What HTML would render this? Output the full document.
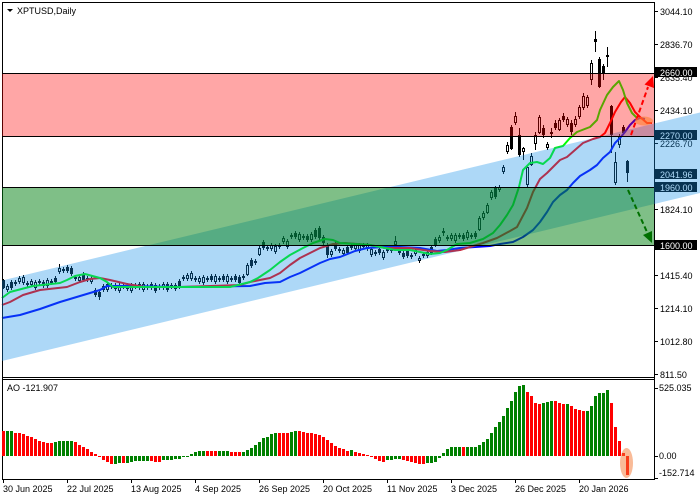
<!DOCTYPE html>
<html><head><meta charset="utf-8"><title>XPTUSD,Daily</title>
<style>
html,body{margin:0;padding:0;background:#fff;width:700px;height:500px;overflow:hidden}
#w{width:700px;height:500px}
svg text{font-family:"Liberation Sans",Arial,sans-serif;font-size:9px;fill:#000}
</style></head><body><div id="w"></div>
<script>
(function(){
var s='<svg xmlns="http://www.w3.org/2000/svg" width="700" height="500" viewBox="0 0 700 500">';
function R(x,y,w,h,f){return '<rect x="'+x+'" y="'+y+'" width="'+w+'" height="'+h+'" fill="'+f+'" shape-rendering="crispEdges"/>';}
function T(x,y,t,f){return '<text x="'+x+'" y="'+y+'"'+(f?' style="fill:'+f+'"':'')+'>'+t+'</text>';}
s+=R(0,0,700,500,'#fff');

/* ---------- candles ---------- */
var m=[284,288,285,283,280,280,284,283,285,282,
284,283,282,280,270,270,269,271,278,279,
277,279,280,292,294,288,287,286,287,288,
286,287,288,286,286,287,287,286,288,287,
286,287,286,287,284,278,277,276,279,280,
280,279,278,279,279,278,279,279,278,280,
277,270,263,262,251,245,248,247,249,246,
240,244,236,235,237,237,238,237,234,233,
240,250,253,246,250,252,250,247,247,248,
246,247,252,253,251,255,250,249,243,252,
255,253,256,252,259,255,254,250,242,239,
232,238,237,238,236,237,235,236,235];
var C=[],i;
for(i=0;i<m.length;i++){var h=1+(i*7%3);var bull=((i*5+3)%7)<4;C.push([m[i]-h,m[i]+h,m[i]-h-2,m[i]+h+2,bull?1:0]);}
var ov={0:[280,288,279,289,0],14:[268,272,264,274,1],23:[290,295,288,297,0],24:[292,297,291,300,0],
61:[265,275,263,276,1],64:[248,255,246,256,1],78:[230,237,228,239,0],79:[228,238,226,240,0],
81:[245,255,243,258,0],98:[241,245,236,247,1],104:[258,261,256,263,1],108:[239,245,237,247,0],110:[231,233,228,236,1]};
for(var k in ov)C[k]=ov[k];
var D=[[218,230,216,231,1],[213,218,211,220,1],[205,213,203,214,1],[192,198,190,200,1],[187,197,186,199,0],
[187,190,185,192,1],[167,172,165,174,1],[145,152,142,154,1],[127,149,125,150,0],[116,123,112,125,1],
[135,155,128,157,0],[148,152,147,160,1],[167,185,165,187,1],[156,165,153,166,1],[135,144,132,150,1],
[117,133,115,134,1],[128,135,125,138,0],[144,148,142,150,1],[132,134,128,138,1],[123,128,120,130,0],
[120,130,118,131,1],[116,120,113,122,0],[119,125,117,127,1],[123,132,120,135,0],[119,125,116,127,1],
[107,117,105,119,1],[96,108,93,110,1],[97,106,95,108,1],[63,80,60,85,1],[39,42,31,52,0],
[59,87,57,88,0],[66,73,64,80,0],[55,57,47,67,1],[106,135,105,153,0],[162,183,152,185,1],
[136,145,134,148,1],[127,133,125,135,0],[161,173,160,182,0]];
for(var j=0;j<D.length;j++)C[119+j]=D[j];
for(i=0;i<C.length;i++){var c=C[i],x=3+4*i;
 s+=R(x,c[2],1,c[3]-c[2],'#000');
 var bh=Math.max(1,c[1]-c[0]);
 s+=R(x-1,c[0],3,bh,'#000');
 if(c[4]&&bh>2)s+=R(x,c[0]+1,1,bh-2,'#fff');
}

/* ---------- moving averages ---------- */
function PL(p,col){return '<polyline fill="none" stroke="'+col+'" stroke-width="2" stroke-linejoin="round" points="'+p.map(function(q){return q.join(',');}).join(' ')+'"/>';}
var blue=[[2,318],[20,315],[40,309],[60,302],[80,296],[100,290],[107,286],[127,286],[180,287],[250,286],[265,283],[280,282],[290,277],[300,273],[310,268],[320,263],[330,259],[340,257],[355,251],[367,248],[383,247],[400,247],[420,248],[437,251],[447,250],[460,248],[475,247],[490,246],[500,244],[513,242],[523,237],[533,230],[540,222],[547,212],[553,202],[560,195],[567,190],[573,183],[580,176],[590,170],[597,165],[603,158],[610,152],[615,143],[620,138],[625,132],[630,125],[635,120],[640,118],[645,119]];
var red=[[2,305],[10,302],[23,295],[40,290],[67,287],[80,282],[90,279],[100,278],[110,280],[127,284],[145,287],[180,287],[240,285],[250,282],[270,278],[280,273],[290,265],[300,258],[310,253],[320,248],[333,244],[345,243],[370,245],[385,248],[410,248],[430,251],[445,252],[460,250],[483,243],[497,238],[510,231],[517,227],[527,208],[533,192],[540,179],[547,173],[553,167],[560,160],[567,157],[575,150],[583,143],[593,139],[600,137],[605,133],[610,123],[615,112],[621,102],[625,97],[630,103],[635,112],[640,117],[647,123],[652,123]];
var green=[[2,298],[10,292],[33,286],[60,283],[67,280],[75,276],[85,274],[100,278],[107,282],[113,287],[127,287],[180,287],[230,287],[250,282],[258,278],[270,270],[280,262],[290,255],[303,248],[313,243],[325,239],[333,240],[340,243],[355,244],[370,245],[385,248],[395,250],[410,250],[420,252],[430,254],[440,253],[447,250],[457,244],[470,243],[483,239],[493,233],[500,225],[507,215],[513,205],[519,187],[523,170],[530,163],[537,162],[543,164],[550,158],[555,148],[563,146],[570,138],[577,132],[590,127],[597,120],[600,110],[607,95],[613,87],[619,81],[623,90],[627,103],[632,113],[637,118]];
s+=PL(blue,'#0000ff')+PL(red,'#ff0000')+PL(green,'#00ff00');

/* ---------- price axis ---------- */
var pl=[[15,'3044.10'],[48,'2836.70'],[81,'2635.40'],[114,'2434.10'],[147,'2226.70'],[213,'1824.10'],[279,'1415.40'],[312,'1214.10'],[345,'1012.80'],[378,'811.50']];
for(i=0;i<pl.length;i++){s+=R(654,pl[i][0]-4,4,1,'#000');s+=T(660,pl[i][0],pl[i][1]);}
var bx=[[67,'2660.00'],[130,'2270.00'],[169,'2041.96'],[182,'1960.00'],[240,'1600.00']];
for(i=0;i<bx.length;i++){s+=R(655,bx[i][0],42,10,'#000');s+=T(660,bx[i][0]+9,bx[i][1],'#fff');}
/* frame (under overlays) */
s+=R(2,2,653,1,'#000')+R(2,2,1,478,'#000')+R(654,2,1,478,'#000');

/* ---------- overlays ---------- */
s+='<polygon points="2,280.5 700,112.5 700,193 2,361" fill="#1590e8" fill-opacity="0.35"/>';
s+='<rect x="2" y="187" width="652" height="58" fill="#007f0f" fill-opacity="0.5"/>';
s+='<rect x="2" y="73" width="652" height="63" fill="#fe0000" fill-opacity="0.35"/>';
s+=R(2,73,652,1,'#000')+R(2,136,652,1,'#000')+R(2,187,652,1,'#000')+R(2,245,652,1,'#000');
s+=R(2,377,653,1,'#000')+R(2,379,653,1,'#000')+R(2,479,653,1,'#000');

/* arrows + ellipse */
s+='<line x1="631" y1="135" x2="648" y2="87" stroke="#ff0000" stroke-width="2" stroke-dasharray="5,3"/>';
s+='<polygon points="653,76 644.5,84.5 654,88" fill="#ff0000"/>';
s+='<line x1="628" y1="190" x2="647" y2="232" stroke="#007000" stroke-width="2" stroke-dasharray="5,3"/>';
s+='<polygon points="652,243 643,235 652,231" fill="#007000"/>';
s+='<ellipse cx="644" cy="121" rx="9" ry="4.5" fill="#ff8030" fill-opacity="0.6"/>';

/* title */
s+='<polygon points="7,9 13,9 10,12" fill="#000"/>';
s+=T(17,14,'XPTUSD,Daily');

/* ---------- AO panel ---------- */
var z=[573,573,573,578,580,583,588,592,598,603,
605,608,608,605,603,603,603,603,606,614,
622,628,635,643,650,660,665,673,673,670,
670,670,665,663,662,662,662,663,665,665,
660,660,660,658,656,652,648,641,635,633,
633,633,633,633,633,633,633,635,636,636,
635,630,625,615,605,595,590,583,580,578,
578,578,575,573,573,576,578,580,583,585,
590,600,610,618,623,628,632,
630,637,640,643,646,652,657,662,665,660,
660,657,657,660,662,665,670,673,673,670,
668,665,655,638,628,622,620,622,622,622,
622,620,615,607,596,578,560,545,528,505,
483,455,437,435,455,468,490,493,490,485,
483,483,490,492,492,497,508,510,512,512,
497,468,460,460,450,490,560,603,640,705];
var col="rggrrrrrrr"+"rrrgggggrr"+"rrrrrrrrgg"+"rggggggrrr"+"gggggggggg"+"grrrgggrrr"+"gggggggggr"+"rrggrrrrrr"+"rrrrrrr"+
"grrrrrrrrg"+"gggrrrrrrg"+"ggggggggrg"+"gggggggggg"+"ggggrrrrgg"+"grrrgrrrrg"+"gggggrrrrr";
for(i=0;i<z.length;i++){
 var yy=Math.round(240+z[i]/3),f=col.charAt(i)=='g'?'#008000':'#ff0000',bx0=2+4*i;
 if(yy<456)s+=R(bx0,yy,3,456-yy,f);else s+=R(bx0,456,3,Math.max(1,yy-456),f);
}
s+='<ellipse cx="626.5" cy="463" rx="6.5" ry="15" fill="#f47832" fill-opacity="0.5"/>';
s+=T(7,391,'AO -121.907');
s+=R(654,388,4,1,'#000')+R(654,456,4,1,'#000')+R(654,478,4,1,'#000');
s+=T(659,391,'525.035')+T(659,459,'0.00')+T(659,476,'-152.714');

/* ---------- date axis ---------- */
var dl=['30 Jun 2025','22 Jul 2025','13 Aug 2025','4 Sep 2025','26 Sep 2025','20 Oct 2025','11 Nov 2025','3 Dec 2025','26 Dec 2025','20 Jan 2026'];
for(i=0;i<dl.length;i++){var tx=3+64*i;s+=R(tx,479,1,4,'#000');s+=T(tx,492,dl[i]);}

s+='</svg>';
document.getElementById('w').innerHTML=s;
})();
</script>
</body></html>
